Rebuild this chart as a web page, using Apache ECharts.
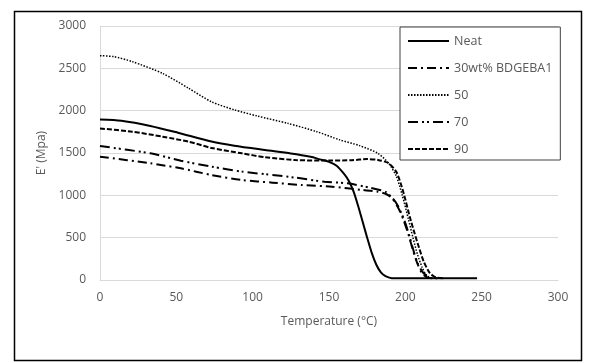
<!DOCTYPE html>
<html><head><meta charset="utf-8">
<script src="https://cdn.jsdelivr.net/npm/echarts@6/dist/echarts.min.js"></script>
<style>html,body{margin:0;padding:0;background:#fff}#c{width:590px;height:363px}</style>
</head><body><div id="c"></div>
<script>
var seriesNames = ['Neat', '30wt% BDGEBA1', '50', '70', '90'];
var xTicks = [0, 50, 100, 150, 200, 250, 300];
var yTicks = [0, 500, 1000, 1500, 2000, 2500, 3000];

var neatT = [0, 14, 33, 51, 73, 88, 108, 125, 138, 144, 150, 155, 160, 163, 166, 169, 172, 175, 178, 181, 184, 187, 191, 195, 220, 247];
var neatV = [1895, 1880, 1820, 1740, 1635, 1585, 1535, 1495, 1455, 1425, 1395, 1350, 1250, 1170, 1050, 880, 690, 500, 320, 180, 90, 45, 22, 20, 20, 20];

var bd30T = [0, 33, 53, 73, 93, 113, 132, 152, 172, 182, 188, 192, 196, 199, 202, 205, 208, 211, 215, 220];
var bd30V = [1457, 1378, 1319, 1240, 1181, 1150, 1122, 1102, 1063, 1043, 1010, 950, 830, 700, 540, 350, 190, 80, 25, 20];

var bd50T = [0, 9, 21, 41, 58, 73, 88, 103, 123, 142, 157, 170, 182, 189, 194, 198, 202, 205, 208, 211, 214, 218];
var bd50V = [2650, 2638, 2580, 2440, 2265, 2105, 2010, 1937, 1850, 1752, 1655, 1587, 1496, 1380, 1230, 1000, 720, 500, 300, 150, 50, 15];

var bd70T = [0, 33, 53, 73, 93, 108, 128, 147, 162, 177, 184, 187, 191, 195, 199, 202, 205, 208, 212, 217, 222];
var bd70V = [1582, 1496, 1409, 1339, 1280, 1250, 1209, 1161, 1142, 1090, 1060, 1040, 980, 880, 720, 560, 370, 200, 80, 25, 20];

var bd90T = [0, 21, 41, 58, 73, 93, 108, 128, 150, 165, 175, 182, 189, 194, 197, 200, 203, 206, 209, 212, 216, 220, 225];
var bd90V = [1790, 1752, 1693, 1634, 1560, 1496, 1450, 1417, 1410, 1415, 1428, 1418, 1380, 1280, 1140, 950, 740, 555, 380, 220, 83, 30, 20];

function pairs(t, v) { return t.map(function (x, i) { return [x, v[i]]; }); }

var dataSets = [pairs(neatT, neatV), pairs(bd30T, bd30V), pairs(bd50T, bd50V), pairs(bd70T, bd70V), pairs(bd90T, bd90V)];
var styles = [
  { type: 'solid', width: 2 },
  { type: [9, 4, 2, 4], width: 2 },
  { type: [1.5, 1.5], width: 1.5 },
  { type: [10, 4, 2, 3, 2, 4], width: 2 },
  { type: [5, 2], width: 2 }
];

var txt = '#595959';
var font = 'Open Sans';
var chart = echarts.init(document.getElementById('c'), null, { renderer: 'canvas' });
chart.setOption({
  animation: false,
  backgroundColor: '#fff',
  textStyle: { fontFamily: font },
  grid: { left: 100, right: 32, top: 26, bottom: 83 },
  xAxis: {
    type: 'value', min: xTicks[0], max: xTicks[xTicks.length - 1], interval: 50,
    name: 'Temperature (°C)', nameLocation: 'middle', nameGap: 36,
    nameTextStyle: { color: txt, fontSize: 12, fontFamily: font },
    axisLine: { show: true, lineStyle: { color: '#d9d9d9', width: 1 } },
    axisTick: { show: false },
    axisLabel: { color: txt, fontSize: 12, fontFamily: font, margin: 12 },
    splitLine: { show: false }
  },
  yAxis: {
    type: 'value', min: yTicks[0], max: yTicks[yTicks.length - 1], interval: 500,
    name: "E' (Mpa)", nameLocation: 'middle', nameGap: 47, nameRotate: 90,
    nameTextStyle: { color: txt, fontSize: 12, fontFamily: font },
    axisLine: { show: true, lineStyle: { color: '#d9d9d9', width: 1 } },
    axisTick: { show: false },
    axisLabel: { color: txt, fontSize: 12, fontFamily: font, margin: 14, formatter: function (v) { return String(v); } },
    splitLine: { show: true, lineStyle: { color: '#d9d9d9', width: 1 } }
  },
  legend: {
    orient: 'vertical', left: 400, top: 27,
    padding: [7, 8, 4, 7],
    itemWidth: 41, itemHeight: 14, itemGap: 13,
    borderColor: '#404040', borderWidth: 1,
    backgroundColor: '#fff',
    itemStyle: { color: 'rgba(0,0,0,0)', borderWidth: 0, opacity: 0 },
    textStyle: { color: txt, fontSize: 12.5, fontFamily: font, lineHeight: 14 },
    data: seriesNames
  },
  graphic: [{
    type: 'rect', left: 12, top: 9, z: 100, silent: true,
    shape: { width: 567, height: 349 },
    style: { fill: 'none', stroke: '#000', lineWidth: 1.5 }
  }],
  series: seriesNames.map(function (n, i) {
    return {
      name: n, type: 'line', data: dataSets[i], smooth: 0.25,
      showSymbol: false, symbol: 'none',
      itemStyle: { color: '#000' },
      lineStyle: { color: '#000', width: styles[i].width, type: styles[i].type }
    };
  })
});
</script></body></html>
